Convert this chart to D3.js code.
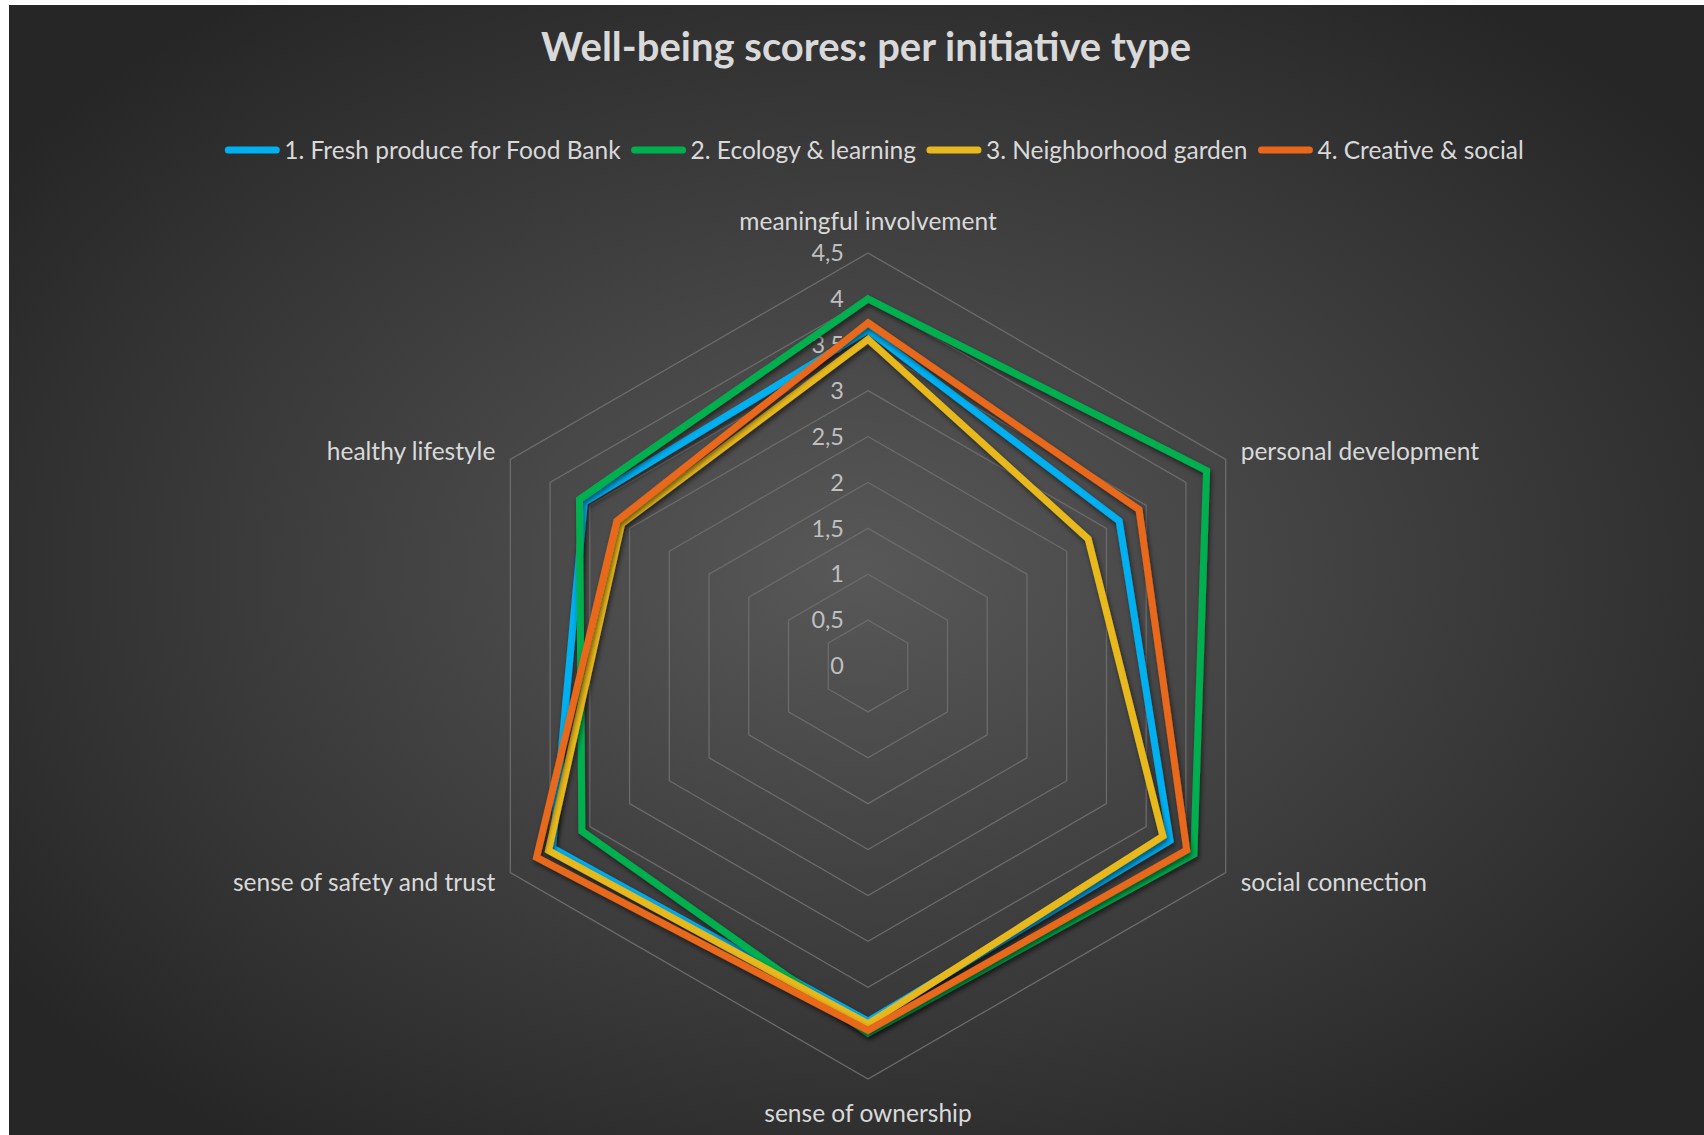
<!DOCTYPE html>
<html>
<head>
<meta charset="utf-8">
<script src="https://cdn.jsdelivr.net/npm/d3@7"></script>
<style>
  html, body { margin: 0; padding: 0; background: #fff; }
  svg { display: block; }
  text { font-family: Lato, "Open Sans", sans-serif; }
</style>
</head>
<body>
<svg id="chart" width="1704" height="1135"></svg>
<script>
// axes, clockwise from top
const axes = ["meaningful involvement", "personal development", "social connection",
              "sense of ownership", "sense of safety and trust", "healthy lifestyle"];
const seriesNames = ["1. Fresh produce for Food Bank", "2. Ecology & learning",
                     "3. Neighborhood garden", "4. Creative & social"];
const freshProduce = [3.66, 3.16, 3.80, 3.87, 3.97, 3.57];
const ecology      = [4.00, 4.26, 4.10, 4.00, 3.60, 3.63];
const neighborhood = [3.56, 2.77, 3.71, 3.90, 4.02, 3.10];
const creative     = [3.74, 3.41, 4.01, 3.97, 4.17, 3.16];
const ticks = [0, 0.5, 1, 1.5, 2, 2.5, 3, 3.5, 4, 4.5];
const tickLabels = ["0", "0,5", "1", "1,5", "2", "2,5", "3", "3,5", "4", "4,5"];
const colors = ["#00b0f0", "#00b050", "#e8b91e", "#e8671a"];

const series = [freshProduce, ecology, neighborhood, creative];

const svg = d3.select("#chart");
const cx = 868, cy = 666;

const defs = svg.append("defs");
const grad = defs.append("radialGradient").attr("id", "bg")
    .attr("cx", "50%").attr("cy", "50%").attr("r", "62%");
grad.append("stop").attr("offset", "0%").attr("stop-color", "#585858");
grad.append("stop").attr("offset", "100%").attr("stop-color", "#262626");

const shadow = defs.append("filter").attr("id", "shadow")
    .attr("x", "-10%").attr("y", "-10%").attr("width", "120%").attr("height", "120%");
shadow.append("feDropShadow").attr("dx", 1.5).attr("dy", 3).attr("stdDeviation", 2.5)
    .attr("flood-color", "#000").attr("flood-opacity", 0.55);

svg.append("rect").attr("x", 9).attr("y", 5).attr("width", 1704 - 9).attr("height", 1135 - 5)
    .attr("fill", "url(#bg)");

// title
svg.append("text")
    .attr("x", 866).attr("y", 61)
    .attr("text-anchor", "middle")
    .attr("fill", "#d9d9d9")
    .attr("font-size", 40).attr("font-weight", "bold")
    .text("Well-being scores: per initiative type");

const r = d3.scaleLinear().domain([0, 4.5]).range([0, 413]);
const angle = d3.scalePoint().domain(d3.range(axes.length + 1)).range([0, 2 * Math.PI]);

const g = svg.append("g").attr("transform", `translate(${cx},${cy})`);

// grid hexagons
const ring = d3.lineRadial()
    .angle((d, i) => angle(i))
    .radius(d => r(d))
    .curve(d3.curveLinearClosed);

g.selectAll(".grid")
    .data(ticks.filter(t => t > 0))
    .enter().append("path")
    .attr("class", "grid")
    .attr("d", t => ring(axes.map(() => t)))
    .attr("fill", "none")
    .attr("stroke", "#6b6b6b")
    .attr("stroke-width", 1.3);

// tick labels
g.selectAll(".tick")
    .data(ticks)
    .enter().append("text")
    .attr("class", "tick")
    .attr("x", -24)
    .attr("y", t => -r(t))
    .attr("dy", "0.35em")
    .attr("text-anchor", "end")
    .attr("fill", "#bfbfbf")
    .attr("font-size", 23.5)
    .text((t, i) => tickLabels[i]);

// series lines
const line = d3.lineRadial()
    .angle((d, i) => angle(i))
    .radius(d => r(d))
    .curve(d3.curveLinearClosed);

g.selectAll(".series")
    .data(series)
    .enter().append("path")
    .attr("class", "series")
    .attr("d", d => line(d))
    .attr("fill", "none")
    .attr("stroke", (d, i) => colors[i])
    .attr("stroke-width", 7)
    .attr("stroke-linejoin", "miter")
    .attr("filter", "url(#shadow)");

// axis labels
const labelR = r(4.5);
g.selectAll(".axis-label")
    .data(axes)
    .enter().append("text")
    .attr("class", "axis-label")
    .attr("x", (d, i) => {
        const s = Math.sin(angle(i));
        return Math.abs(s) < 0.01 ? 0 : labelR * s + (s > 0 ? 15 : -15);
    })
    .attr("y", (d, i) => {
        const c = Math.cos(angle(i));
        if (Math.abs(c - 1) < 0.01) return -labelR - 32;
        if (Math.abs(c + 1) < 0.01) return labelR + 34;
        return -labelR * c - (c > 0 ? 8 : -10);
    })
    .attr("dy", "0.35em")
    .attr("text-anchor", (d, i) => {
        const s = Math.sin(angle(i));
        return Math.abs(s) < 0.01 ? "middle" : (s > 0 ? "start" : "end");
    })
    .attr("fill", "#d9d9d9")
    .attr("font-size", 24.5)
    .text(d => d);

// legend
const legend = svg.append("g");
const items = legend.selectAll(".item")
    .data(seriesNames)
    .enter().append("g").attr("class", "item");
items.append("line")
    .attr("x1", 4).attr("x2", 52).attr("y1", 0).attr("y2", 0)
    .attr("stroke", (d, i) => colors[i])
    .attr("stroke-width", 7)
    .attr("stroke-linecap", "round");
items.append("text")
    .attr("x", 60).attr("dy", "0.35em")
    .attr("fill", "#d9d9d9")
    .attr("font-size", 24.5)
    .text(d => d);

let xpos = 0;
const offsets = [];
items.each(function () {
    offsets.push(xpos);
    xpos += 60 + this.querySelector("text").getComputedTextLength() + 10;
});
const total = xpos - 10;
const startX = 874 - total / 2;
items.attr("transform", (d, i) => `translate(${startX + offsets[i]},150)`);
</script>
</body>
</html>
